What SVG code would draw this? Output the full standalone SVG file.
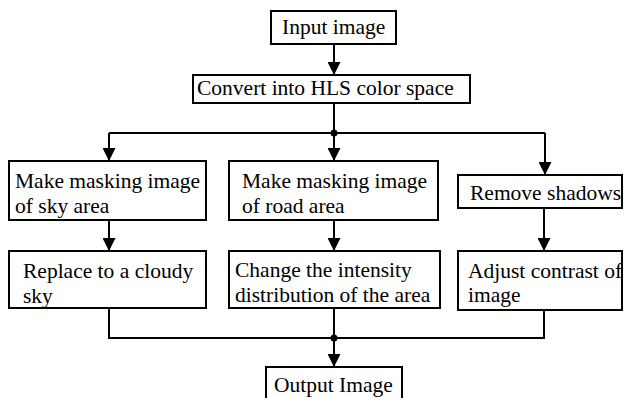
<svg xmlns="http://www.w3.org/2000/svg" width="626" height="398" viewBox="0 0 626 398">
<defs>
<style>
.box{fill:#fff;stroke:#000;stroke-width:2}
.t{font-family:'Liberation Serif','Times New Roman',serif;font-size:21.5px;fill:#000}
.c{fill:none;stroke:#000;stroke-width:2}
</style>
<marker id="ah" markerWidth="13" markerHeight="13" refX="13" refY="6.5" orient="auto" markerUnits="userSpaceOnUse">
<path d="M0,0 L13,6.5 L0,13 z" fill="#000"/>
</marker>
</defs>
<rect width="626" height="398" fill="#fff"/>
<g id="connectors">
<path class="c" d="M334,44 V75" marker-end="url(#ah)"/>
<path class="c" d="M334,103 V133"/>
<path class="c" d="M109,133 H545"/>
<path class="c" d="M109,133 V161" marker-end="url(#ah)"/>
<path class="c" d="M334,133 V161" marker-end="url(#ah)"/>
<path class="c" d="M545,133 V175" marker-end="url(#ah)"/>
<path class="c" d="M109,220 V251" marker-end="url(#ah)"/>
<path class="c" d="M334,220 V251" marker-end="url(#ah)"/>
<path class="c" d="M544,208 V251" marker-end="url(#ah)"/>
<path class="c" d="M109,308 V338 H544 V310"/>
<path class="c" d="M334,308 V338"/>
<path class="c" d="M334,338 V367" marker-end="url(#ah)"/>
<circle cx="334" cy="133" r="3.5" fill="#000"/>
<circle cx="334" cy="338" r="3.5" fill="#000"/>
</g>
<g id="input">
<rect class="box" x="271" y="11" width="125" height="33"/>
<text class="t" x="282" y="34">Input image</text>
</g>
<g id="convert">
<rect class="box" x="193" y="75" width="277" height="28"/>
<text class="t" x="197" y="95">Convert into HLS color space</text>
</g>
<g id="sky">
<rect class="box" x="9" y="161" width="197" height="59"/>
<text class="t" x="15" y="188">Make masking image</text>
<text class="t" x="15" y="213">of sky area</text>
</g>
<g id="road">
<rect class="box" x="229" y="161" width="209" height="59"/>
<text class="t" x="242" y="188">Make masking image</text>
<text class="t" x="242" y="213">of road area</text>
</g>
<g id="shadows">
<rect class="box" x="458" y="175" width="164" height="33"/>
<text class="t" x="470" y="200">Remove shadows</text>
</g>
<g id="replace">
<rect class="box" x="9" y="251" width="197" height="57"/>
<text class="t" x="23" y="278">Replace to a cloudy</text>
<text class="t" x="23" y="303">sky</text>
</g>
<g id="change">
<rect class="box" x="229" y="251" width="211" height="57"/>
<text class="t" x="235" y="277">Change the intensity</text>
<text class="t" x="235" y="302">distribution of the area</text>
</g>
<g id="adjust">
<rect class="box" x="458" y="251" width="164" height="59"/>
<text class="t" x="468" y="278">Adjust contrast of</text>
<text class="t" x="468" y="302">image</text>
</g>
<g id="output">
<rect class="box" x="266" y="367" width="136" height="34"/>
<text class="t" x="274" y="392">Output Image</text>
</g>
</svg>
